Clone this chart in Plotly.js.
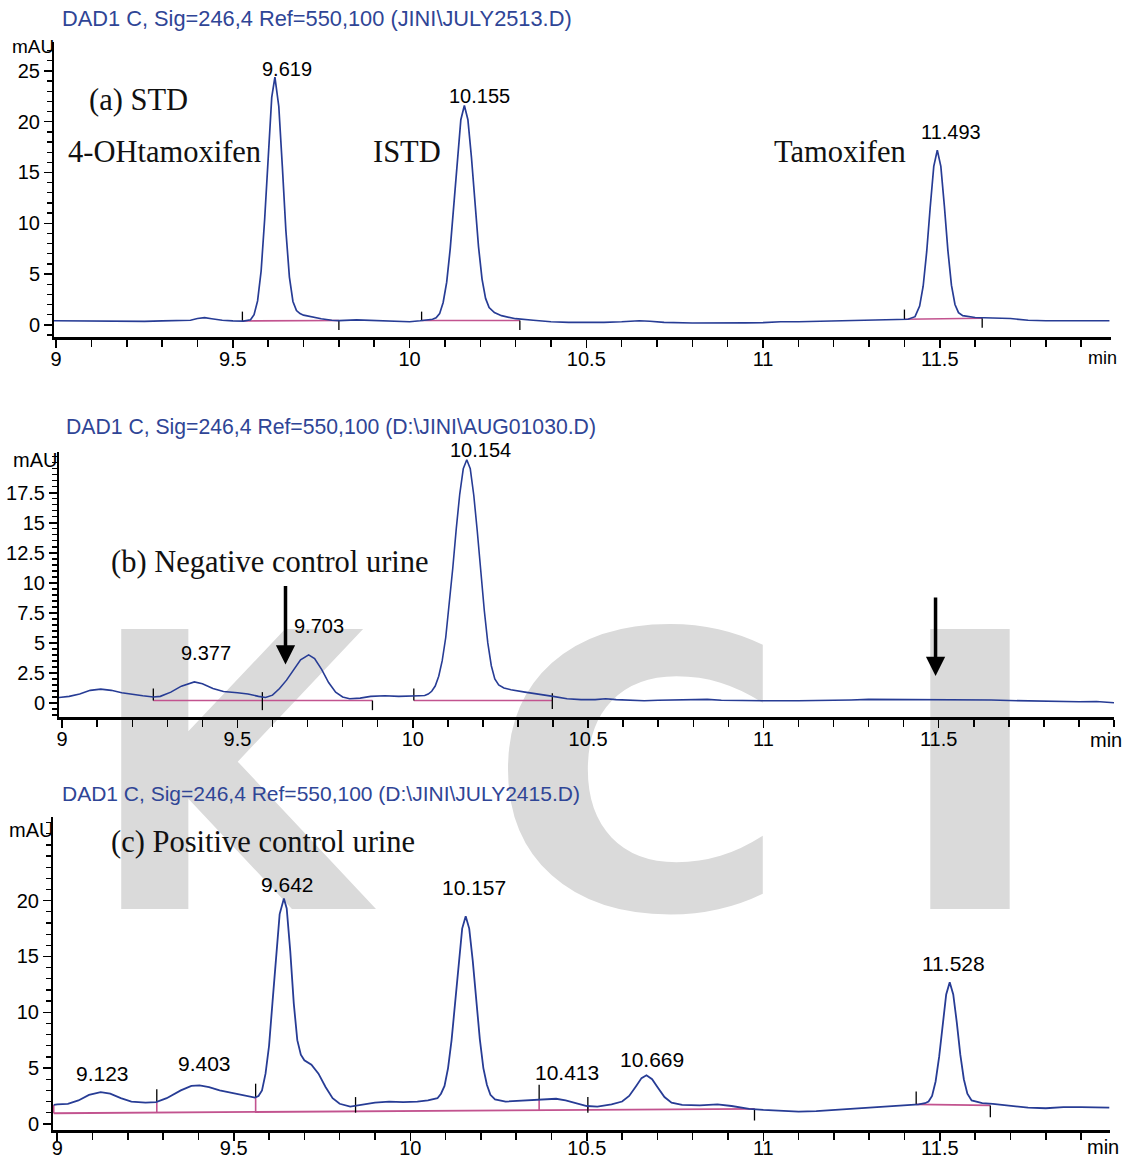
<!DOCTYPE html>
<html><head><meta charset="utf-8">
<script src="https://cdn.plot.ly/plotly-3.0.1.min.js"></script>
<style>
html,body{margin:0;padding:0;background:#fff;}
#wrap{position:relative;width:1134px;height:1161px;overflow:hidden;background:#fff;}
.wm{position:absolute;font-family:"DejaVu Sans";font-weight:bold;font-size:384px;line-height:384px;color:#dadada;}
#plot{position:absolute;left:0;top:0;width:1134px;height:1161px;}
</style></head><body>
<div id="wrap">
<div class="wm" style="left:86px;top:585px;transform:scaleX(0.93);transform-origin:35px 0;">K</div>
<div class="wm" style="left:489px;top:585px;transform:scaleX(1.07);transform-origin:21px 0;">C</div>
<div class="wm" style="left:895px;top:585px;transform:scaleX(1.1);transform-origin:35px 0;">I</div>
<div id="plot"></div>
</div>
<script>
// ---------- Panel (a) STD ----------
const aX = [8.99,9.05,9.10,9.15,9.20,9.25,9.30,9.35,9.38,9.40,9.42,9.44,9.47,9.50,9.53,9.55,9.56,9.57,9.58,9.59,9.60,9.61,9.619,9.63,9.64,9.65,9.66,9.67,9.68,9.69,9.70,9.72,9.75,9.78,9.80,9.85,9.88,9.92,9.96,10.00,10.03,10.05,10.065,10.075,10.085,10.095,10.105,10.115,10.125,10.135,10.145,10.155,10.165,10.175,10.185,10.195,10.205,10.215,10.225,10.24,10.26,10.30,10.35,10.40,10.45,10.50,10.55,10.60,10.65,10.68,10.72,10.80,10.90,10.95,11.00,11.05,11.10,11.20,11.30,11.38,11.41,11.43,11.443,11.453,11.463,11.473,11.483,11.493,11.503,11.513,11.523,11.533,11.543,11.553,11.565,11.60,11.65,11.70,11.75,11.80,11.90,11.98];
const aY = [0.40,0.38,0.32,0.30,0.30,0.33,0.38,0.40,0.45,0.62,0.70,0.60,0.45,0.38,0.36,0.50,1.00,2.35,5.30,10.4,16.9,22.4,24.4,21.5,15.6,9.3,4.7,2.3,1.4,1.1,0.95,0.80,0.60,0.45,0.42,0.48,0.45,0.40,0.35,0.30,0.40,0.45,0.55,0.70,1.10,2.20,4.20,7.50,11.8,16.5,20.2,21.6,20.2,16.5,11.9,7.7,4.5,2.6,1.7,1.2,0.9,0.60,0.45,0.30,0.25,0.22,0.25,0.30,0.40,0.35,0.25,0.18,0.15,0.20,0.22,0.30,0.30,0.38,0.45,0.50,0.55,0.80,1.85,3.8,7.2,11.6,15.6,17.2,15.6,11.7,7.3,3.9,2.0,1.2,0.9,0.72,0.68,0.62,0.45,0.40,0.40,0.40];
const aPeakT = [9.619, 10.155, 11.493];
const aPeakH = [24.4, 21.6, 17.2];
const aBaseX = [9.527, 9.80, null, 10.034, 10.312, null, 11.40, 11.62];
const aBaseY = [0.38, 0.42, null, 0.42, 0.42, null, 0.55, 0.65];
const aTickX = [9.527,9.527,null,9.80,9.80,null,10.034,10.034,null,10.312,10.312,null,11.40,11.40,null,11.62,11.62];
const aTickY = [0.38,1.3,null,0.42,-0.5,null,0.42,1.3,null,0.42,-0.5,null,0.55,1.5,null,0.65,-0.3];
const aYTicks = [0,5,10,15,20,25];

// ---------- Panel (b) Negative control urine ----------
const bX = [8.99,9.02,9.05,9.08,9.11,9.14,9.17,9.20,9.23,9.26,9.28,9.31,9.34,9.377,9.40,9.43,9.46,9.50,9.53,9.56,9.58,9.60,9.62,9.64,9.66,9.68,9.703,9.72,9.74,9.76,9.78,9.80,9.82,9.85,9.88,9.92,9.96,10.00,10.02,10.034,10.044,10.054,10.064,10.074,10.084,10.094,10.104,10.114,10.124,10.134,10.144,10.154,10.164,10.174,10.184,10.194,10.204,10.214,10.224,10.234,10.245,10.26,10.28,10.32,10.36,10.40,10.44,10.48,10.52,10.55,10.58,10.62,10.66,10.70,10.75,10.80,10.84,10.88,10.93,11.00,11.10,11.20,11.25,11.30,11.40,11.50,11.60,11.65,11.70,11.80,11.90,11.95,12.00];
const bY = [0.45,0.55,0.75,1.05,1.15,1.05,0.85,0.70,0.60,0.50,0.55,0.90,1.40,1.75,1.60,1.20,0.95,0.85,0.75,0.55,0.45,0.65,1.20,1.90,2.80,3.60,4.00,3.70,2.80,1.70,0.90,0.50,0.35,0.40,0.55,0.60,0.55,0.55,0.60,0.62,0.74,0.97,1.41,2.22,3.52,5.45,8.05,11.2,14.5,17.4,19.5,20.25,19.5,17.3,14.3,10.9,7.7,5.0,3.1,2.0,1.5,1.25,1.10,0.90,0.75,0.55,0.35,0.28,0.28,0.35,0.28,0.25,0.18,0.22,0.25,0.28,0.30,0.22,0.18,0.18,0.18,0.20,0.25,0.30,0.30,0.30,0.28,0.25,0.20,0.12,0.10,0.12,0.02];
const bPeakT = [9.377, 9.703, 10.154];
const bPeakH = [1.75, 4.0, 20.25];
const bBaseX = [9.26, 9.885, null, 10.003, 10.398];
const bBaseY = [0.2, 0.2, null, 0.2, 0.2];
const bTickX = [9.26,9.26,null,9.571,9.571,null,9.885,9.885,null,10.003,10.003,null,10.398,10.398];
const bTickY = [0.2,1.2,null,-0.6,0.9,null,0.2,-0.6,null,0.2,1.2,null,-0.5,0.8];
const bArrowX = [9.637, 11.491];
const bArrowY = [3.2, 2.25];
const bYTicks = [0,2.5,5,7.5,10,12.5,15,17.5];

// ---------- Panel (c) Positive control urine ----------
const cX = [8.99,9.00,9.03,9.06,9.09,9.123,9.15,9.18,9.21,9.25,9.28,9.31,9.35,9.38,9.403,9.43,9.46,9.50,9.53,9.56,9.57,9.58,9.59,9.60,9.61,9.62,9.63,9.642,9.65,9.66,9.67,9.68,9.69,9.70,9.72,9.74,9.76,9.78,9.80,9.83,9.86,9.90,9.94,9.98,10.02,10.05,10.077,10.087,10.097,10.107,10.117,10.127,10.137,10.147,10.157,10.167,10.177,10.187,10.197,10.207,10.217,10.227,10.24,10.27,10.30,10.35,10.38,10.413,10.44,10.47,10.50,10.53,10.57,10.60,10.62,10.64,10.655,10.669,10.685,10.70,10.72,10.74,10.77,10.82,10.87,10.91,10.96,11.00,11.05,11.10,11.15,11.20,11.25,11.30,11.35,11.40,11.44,11.458,11.468,11.478,11.488,11.498,11.508,11.518,11.528,11.538,11.548,11.558,11.568,11.578,11.59,11.62,11.65,11.70,11.75,11.80,11.85,11.90,11.95,11.98];
const cY = [1.70,1.75,1.80,2.10,2.60,2.85,2.70,2.30,2.00,1.90,1.95,2.30,3.00,3.40,3.45,3.30,3.00,2.75,2.60,2.35,2.50,3.00,4.50,7.0,11.0,15.2,18.8,20.2,19.3,15.5,10.8,7.5,6.2,5.7,5.3,4.5,3.3,2.3,1.8,1.55,1.70,1.90,2.00,1.95,2.00,2.10,2.30,2.70,3.40,5.0,7.5,10.9,14.6,17.5,18.6,17.5,14.6,10.9,7.6,5.0,3.5,2.6,2.2,2.0,2.05,2.15,2.20,2.25,2.10,1.85,1.60,1.55,1.75,2.00,2.50,3.40,4.10,4.35,4.00,3.30,2.40,1.90,1.70,1.65,1.75,1.60,1.35,1.25,1.15,1.10,1.15,1.25,1.35,1.45,1.55,1.65,1.75,1.85,2.0,2.5,3.8,6.0,9.0,11.6,12.7,11.6,9.1,6.2,4.0,2.7,2.1,1.85,1.80,1.60,1.45,1.40,1.50,1.50,1.45,1.45];
const cPeakT = [9.123, 9.403, 9.642, 10.157, 10.413, 10.669, 11.528];
const cPeakH = [2.85, 3.45, 20.2, 18.6, 2.25, 4.35, 12.7];
const cBaseX = [8.99, 10.975, null, 11.433, 11.643];
const cBaseY = [0.95, 1.35, null, 1.75, 1.65];
const cDropX = [8.99,8.99,null,9.282,9.282,null,9.562,9.562,null,10.365,10.365,null,10.503,10.503];
const cDropY = [0.95,1.7,null,1.01,1.95,null,1.07,2.35,null,1.23,2.2,null,1.25,1.6];
const cTickX = [9.282,9.282,null,9.562,9.562,null,9.845,9.845,null,10.365,10.365,null,10.503,10.503,null,10.975,10.975,null,11.433,11.433,null,11.643,11.643];
const cTickY = [1.95,3.1,null,2.35,3.6,null,2.4,1.0,null,2.2,3.5,null,2.4,1.0,null,1.35,0.3,null,1.75,2.9,null,1.65,0.6];
const cYTicks = [0,5,10,15,20];

const xTicks = [9, 9.5, 10, 10.5, 11, 11.5];
const headers = [
  'DAD1 C, Sig=246,4 Ref=550,100 (JINI\\JULY2513.D)',
  'DAD1 C, Sig=246,4 Ref=550,100 (D:\\JINI\\AUG01030.D)',
  'DAD1 C, Sig=246,4 Ref=550,100 (D:\\JINI\\JULY2415.D)'
];
const captions = ['(a) STD', '4-OHtamoxifen', 'ISTD', 'Tamoxifen', '(b) Negative control urine', '(c) Positive control urine'];

// ---------- styling ----------
const W = 1134, H = 1161;
const px = v => v / W, py = v => 1 - v / H;
const TRACE = '#273c95', BASE = '#c2538f', HEAD = '#2f4596';
const SANS = 'Liberation Sans, Arial, sans-serif';
const SERIF = 'Liberation Serif, Times New Roman, serif';

function line(x, y, xa, ya, color, w) {
  return {x, y, xaxis: xa, yaxis: ya, type: 'scatter', mode: 'lines', connectgaps: false,
          line: {color, width: w}, hoverinfo: 'skip'};
}
const traces = [
  line(aBaseX, aBaseY, 'x', 'y', BASE, 1.6),
  line(aTickX, aTickY, 'x', 'y', '#000', 1.3),
  line(aX, aY, 'x', 'y', TRACE, 1.7),
  line(bBaseX, bBaseY, 'x2', 'y2', BASE, 1.6),
  line(bTickX, bTickY, 'x2', 'y2', '#000', 1.3),
  line(bX, bY, 'x2', 'y2', TRACE, 1.6),
  line(cBaseX, cBaseY, 'x3', 'y3', BASE, 1.8),
  line(cDropX, cDropY, 'x3', 'y3', BASE, 1.6),
  line(cTickX, cTickY, 'x3', 'y3', '#000', 1.3),
  line(cX, cY, 'x3', 'y3', TRACE, 1.8)
];

function xax(d0, d1, r0, r1, anchor, stand) {
  return {domain: [px(d0), px(d1)], range: [r0, r1], anchor, showline: true, linecolor: '#000', linewidth: 3,
    ticks: 'outside', ticklen: 8, tickwidth: 1.5, tickcolor: '#000', tickmode: 'array', tickvals: xTicks,
    ticklabelstandoff: stand,
    minor: {ticks: 'outside', tickmode: 'linear', tick0: 9, dtick: 0.1, ticklen: 7, tickwidth: 1.5, tickcolor: '#000'},
    showgrid: false, zeroline: false, tickfont: {family: SANS, size: 20, color: '#000'}, fixedrange: true};
}
function yax(t0, t1, r0, r1, anchor, vals, mdt) {
  return {domain: [py(t1), py(t0)], range: [r0, r1], anchor, showline: true, linecolor: '#000', linewidth: 2,
    ticks: 'outside', ticklen: 8, tickwidth: 1.5, tickcolor: '#000', tickmode: 'array', tickvals: vals,
    minor: {ticks: 'outside', tickmode: 'linear', tick0: 0, dtick: mdt, ticklen: 5, tickwidth: 1.3, tickcolor: '#000'},
    showgrid: false, zeroline: false, tickfont: {family: SANS, size: 20, color: '#000'}, fixedrange: true};
}

const ann = [];
function ptxt(text, x, y, opts) {
  ann.push(Object.assign({text, x: px(x), y: py(y), xref: 'paper', yref: 'paper', showarrow: false,
    xanchor: 'left', yanchor: 'middle', font: {family: SANS, size: 20, color: '#000'}}, opts || {}));
}
// headers
ptxt(headers[0], 60, 18, {font: {family: SANS, size: 21.8, color: HEAD}});
ptxt(headers[1], 64, 427, {font: {family: SANS, size: 21.2, color: HEAD}});
ptxt(headers[2], 60, 793, {font: {family: SANS, size: 21, color: HEAD}});
// axis unit labels
ptxt('mAU', 33, 47, {xanchor: 'center', font: {family: SANS, size: 19, color: '#000'}});
ptxt('mAU', 35, 460, {xanchor: 'center'});
ptxt('mAU', 31, 830, {xanchor: 'center'});
ptxt('min', 1102, 358, {xanchor: 'center', font: {family: SANS, size: 18, color: '#000'}});
ptxt('min', 1106, 740, {xanchor: 'center'});
ptxt('min', 1103, 1147, {xanchor: 'center'});
// captions
const capPos = [[87, 100], [66, 152], [371, 152], [772, 152], [109, 562], [109, 842]];
captions.forEach((c, i) => ptxt(c, capPos[i][0], capPos[i][1], {font: {family: SERIF, size: 30.5, color: '#111'}}));

// peak labels (shift in px from apex)
const aShift = [[12, 8], [15, 9], [14, 18]];
const bShift = [[12, 29], [10, 29], [14, 10]];
const cShift = [[2, 19], [5, 22], [4, 14], [8, 29], [11, 26], [6, 16], [4, 19]];
function peaks(T, Hh, sh, xr, yr, size) {
  T.forEach((t, i) => ann.push({text: t.toFixed(3), x: t, y: Hh[i], xref: xr, yref: yr, showarrow: false,
    xanchor: 'center', yanchor: 'middle', xshift: sh[i][0], yshift: sh[i][1],
    font: {family: SANS, size: size, color: '#000'}}));
}
peaks(aPeakT, aPeakH, aShift, 'x', 'y', 20);
peaks(bPeakT, bPeakH, bShift, 'x2', 'y2', 20);
peaks(cPeakT, cPeakH, cShift, 'x3', 'y3', 21);
// arrows in (b)
bArrowX.forEach((x, i) => ann.push({text: '', x, y: bArrowY[i], xref: 'x2', yref: 'y2', showarrow: true,
  ax: 0, ay: -80, arrowhead: 2, arrowsize: 1.1, arrowwidth: 3.5, arrowcolor: '#000'}));

const layout = {
  width: W, height: H, margin: {l: 0, r: 0, t: 0, b: 0},
  paper_bgcolor: 'rgba(0,0,0,0)', plot_bgcolor: 'rgba(0,0,0,0)', showlegend: false,
  font: {family: SANS, color: '#000', size: 20},
  xaxis: xax(54, 1110.5, 8.994, 11.983, 'y', -6),
  yaxis: yax(42, 337, -1.2, 27.85, 'x', aYTicks, 1),
  xaxis2: xax(59, 1114, 8.991, 12.0, 'y2', -6),
  yaxis2: yax(452, 717, -1.17, 20.9, 'x2', bYTicks, 0.5),
  xaxis3: xax(53, 1110, 8.988, 11.982, 'y3', -10),
  yaxis3: yax(817, 1130, -0.55, 27.5, 'x3', cYTicks, 1),
  annotations: ann
};
Plotly.newPlot('plot', traces, layout, {staticPlot: true, displayModeBar: false});
</script>
</body></html>
